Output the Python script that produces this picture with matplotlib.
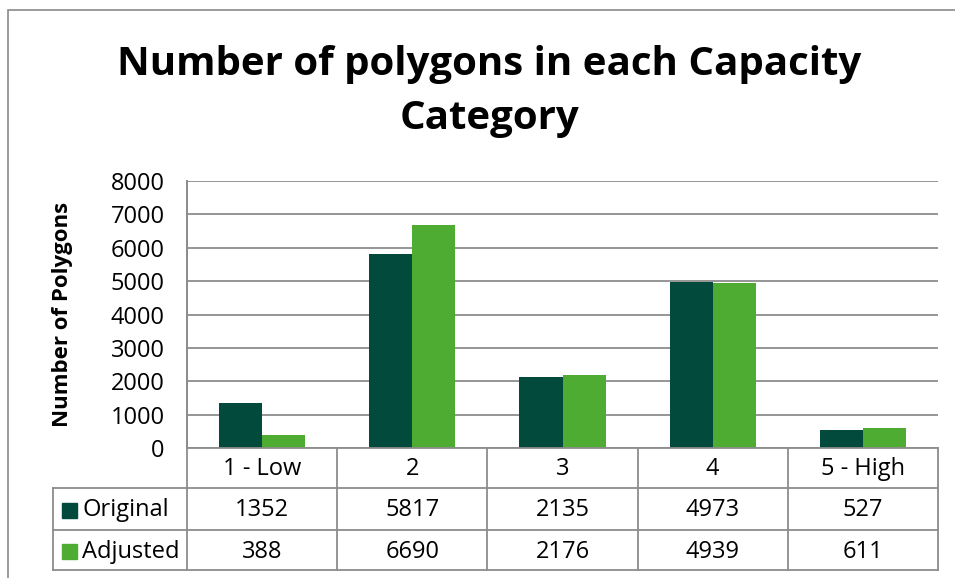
import numpy as np
import matplotlib.pyplot as plt
from matplotlib.patches import Rectangle

plt.rcParams["font.family"] = ["Open Sans", "DejaVu Sans"]

# ── data ─────────────────────────────────────────────────────────────
categories = ["1 - Low", "2", "3", "4", "5 - High"]
original   = [1352, 5817, 2135, 4973, 527]
adjusted   = [388, 6690, 2176, 4939, 611]
series     = ["Original", "Adjusted"]

DARK  = "#024a3b"
LIGHT = "#4fac33"
GRID  = "#8c8c8c"

fig = plt.figure(figsize=(9.55, 5.78), dpi=100)
W, H = 955, 578

def fx(px):
    return px / W

def fy(py):
    return 1 - py / H

# outer chart frame (cropped on right and bottom)
fig.add_artist(Rectangle((fx(8), fy(620)), fx(1000), fy(10) - fy(620),
                         transform=fig.transFigure, fill=False,
                         edgecolor="#8a8a8a", lw=1.2))

left, right, top, bottom = 187, 938, 181, 448
ax = fig.add_axes([fx(left), fy(bottom), fx(right - left), fy(top) - fy(bottom)])

x = np.arange(len(categories))
w = 0.287
ax.bar(x - w / 2, original, w, color=DARK, zorder=2)
ax.bar(x + w / 2, adjusted, w, color=LIGHT, zorder=2)

ax.set_xlim(-0.5, len(categories) - 0.5)
ax.set_ylim(0, 8000)
ax.set_yticks(np.arange(0, 8001, 1000))
ax.set_xticks([])
ax.yaxis.grid(True, color=GRID, lw=1.3, zorder=0)
ax.set_axisbelow(True)
for s in ["top", "right", "bottom"]:
    ax.spines[s].set_visible(False)
ax.spines["left"].set_color(GRID)
ax.spines["left"].set_linewidth(1.3)
ax.tick_params(axis="y", length=0, labelsize=17, pad=16)

ax.set_ylabel("Number of Polygons", fontsize=16, fontweight="bold")
ax.yaxis.set_label_coords(-0.152, 0.5)

# ── data table under the axis ────────────────────────────────────────
ah = bottom - top
aw = right - left
def ay(py):
    return -(py - bottom) / ah
def axx(px):
    return (px - left) / aw

row_y = [448, 488, 530, 570]
leg_x = 53
kw = dict(transform=ax.transAxes, color=GRID, lw=1.3, clip_on=False)
ax.plot([0, 1], [ay(448)] * 2, **kw)
for yy in row_y[1:]:
    ax.plot([axx(leg_x), 1], [ay(yy)] * 2, **kw)
bounds = np.linspace(0, 1, len(categories) + 1)
for b in bounds:
    y0 = ay(181) if b == 0 else ay(448)
    ax.plot([b, b], [y0, ay(570)], **kw)
ax.plot([axx(leg_x)] * 2, [ay(488), ay(570)], **kw)

centers = (bounds[:-1] + bounds[1:]) / 2
for c, lab in zip(centers, categories):
    ax.text(c, ay(469), lab, transform=ax.transAxes, ha="center", va="center",
            fontsize=17)
for r, (name, vals, col) in enumerate(zip(series, [original, adjusted], [DARK, LIGHT])):
    yc = ay((row_y[r + 1] + row_y[r + 2]) / 2 + 1.5)
    for c, v in zip(centers, vals):
        ax.text(c, yc, str(v), transform=ax.transAxes, ha="center", va="center",
                fontsize=17)
    ax.add_patch(Rectangle((axx(62), yc - 7.5 / ah), 15 / aw, 15 / ah,
                           transform=ax.transAxes, color=col, clip_on=False))
    ax.text(axx(82), yc, name, transform=ax.transAxes, ha="left", va="center",
            fontsize=17)

fig.text(fx(489), fy(91), "Number of polygons in each Capacity\nCategory",
         ha="center", va="center", fontsize=29, fontweight="bold",
         linespacing=1.5)

fig.savefig("out.png", dpi=100)
